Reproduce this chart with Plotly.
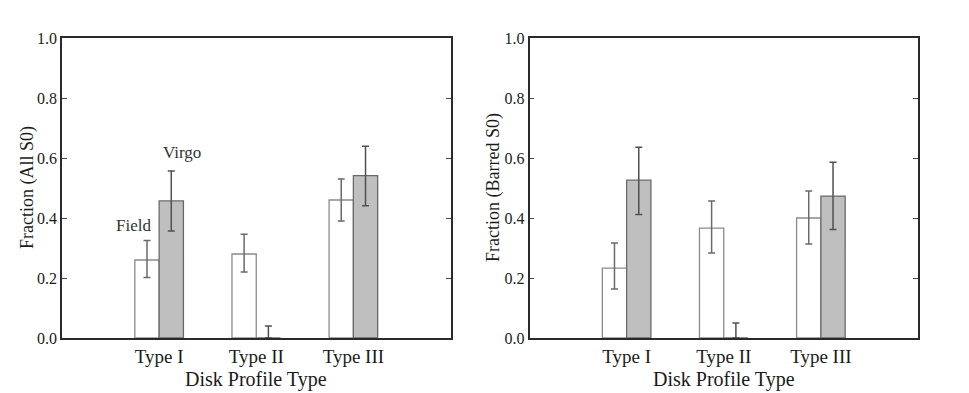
import plotly.graph_objects as go
from plotly.subplots import make_subplots

# Datos
tipos = ["Type I", "Type II", "Type III"]

# Panel izquierdo: todas las S0
field_all = [0.26, 0.28, 0.46]
field_all_up = [0.065, 0.066, 0.07]
field_all_down = [0.058, 0.06, 0.07]
virgo_all = [0.457, 0.0, 0.541]
virgo_all_up = [0.10, 0.04, 0.098]
virgo_all_down = [0.10, 0.0, 0.10]

# Panel derecho: S0 barradas
field_bar = [0.233, 0.366, 0.40]
field_bar_up = [0.084, 0.091, 0.09]
field_bar_down = [0.07, 0.083, 0.087]
virgo_bar = [0.526, 0.0, 0.473]
virgo_bar_up = [0.11, 0.05, 0.113]
virgo_bar_down = [0.114, 0.0, 0.111]

FONT = "Liberation Serif, Times New Roman, serif"
# la pagina tiene 8px de margen en el body
OFF = 8
W, H = 969 - OFF, 393 - OFF
ML, MR, MT, MB = 62 - OFF, 51, 38 - OFF, 55
PW, PH = W - ML - MR, H - MT - MB

fig = make_subplots(rows=1, cols=2, horizontal_spacing=(530 - 451) / PW)


def add_panel(col, f, fu, fd, v, vu, vd):
    fig.add_trace(go.Bar(
        x=tipos, y=f, name="Field",
        marker=dict(color="white", line=dict(color="#8a8a8a", width=1.3)),
        error_y=dict(type="data", symmetric=False, array=fu, arrayminus=fd,
                     color="#6a6a6a", thickness=1.5, width=3.5),
        showlegend=False,
    ), row=1, col=col)
    fig.add_trace(go.Bar(
        x=tipos, y=v, name="Virgo",
        marker=dict(color="#bfbfbf", line=dict(color="#6a6a6a", width=1.3)),
        error_y=dict(type="data", symmetric=False, array=vu, arrayminus=vd,
                     color="#505050", thickness=1.5, width=3.5),
        showlegend=False,
    ), row=1, col=col)


add_panel(1, field_all, field_all_up, field_all_down,
          virgo_all, virgo_all_up, virgo_all_down)
add_panel(2, field_bar, field_bar_up, field_bar_down,
          virgo_bar, virgo_bar_up, virgo_bar_down)

fig.update_layout(
    width=W, height=H,
    margin=dict(l=ML, r=MR, t=MT, b=MB),
    barmode="group", bargap=0.5, bargroupgap=0,
    plot_bgcolor="white", paper_bgcolor="white",
    font=dict(family=FONT, color="#1a1a1a", size=16),
)

fig.update_xaxes(
    type="category", range=[-1, 3], automargin=False,
    showline=True, mirror=True, linecolor="#2a2a2a", linewidth=1.5,
    ticks="", showgrid=False, tickfont=dict(size=19),
)
fig.update_yaxes(
    range=[0, 1], dtick=0.2, tickformat=".1f", automargin=False,
    showline=True, mirror="ticks", linecolor="#2a2a2a", linewidth=1.5,
    ticks="inside", ticklen=5, tickcolor="#444", showgrid=False, zeroline=False,
    tickfont=dict(size=16),
)

# Titulos de ejes como anotaciones (coordenadas de pantalla del original)
def px_x(x):
    return (x - OFF - ML) / PW


def px_y(y):
    return (MT + PH - (y - OFF)) / PH


titulos = [
    ("Disk Profile Type", px_x(256), px_y(379), 0, 20),
    ("Disk Profile Type", px_x(724), px_y(379), 0, 20),
    ("Fraction (All S0)", px_x(27), 0.5, -90, 18),
    ("Fraction (Barred S0)", px_x(493), 0.5, -90, 18),
]
for txt, px, py, ang, sz in titulos:
    fig.add_annotation(x=px, y=py, xref="paper", yref="paper", text=txt,
                       textangle=ang, showarrow=False,
                       xanchor="center", yanchor="middle",
                       font=dict(family=FONT, size=sz, color="#1a1a1a"))

fig.add_annotation(x=0.24, y=0.62, xref="x", yref="y", text="Virgo",
                   showarrow=False, font=dict(family=FONT, size=17, color="#333"))
fig.add_annotation(x=-0.26, y=0.375, xref="x", yref="y", text="Field",
                   showarrow=False, font=dict(family=FONT, size=17, color="#333"))

fig.write_html("out.html")
